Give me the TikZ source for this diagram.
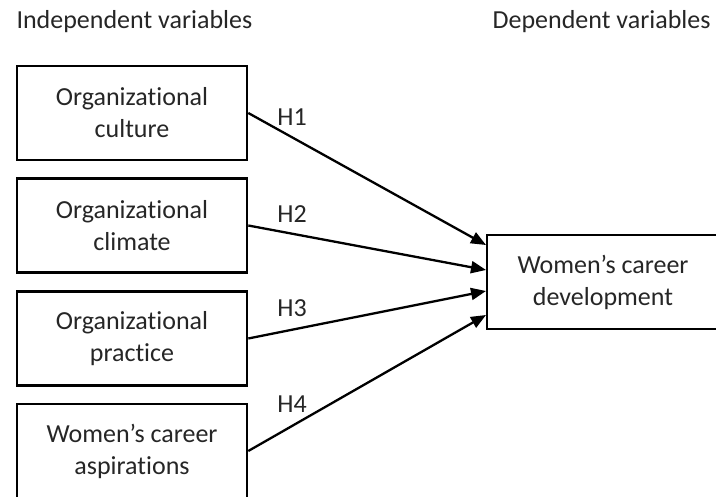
\documentclass[tikz,border=0pt]{standalone}
\usepackage{fontspec}
\setmainfont[Ligatures={NoCommon,NoRequired,NoContextual}]{Carlito}
\usetikzlibrary{arrows.meta}
\begin{document}
\begin{tikzpicture}[x=1pt,y=-1pt,
  every node/.style={font=\fontsize{26}{32}\selectfont, text=black!85},
  varbox/.style={draw=black, line width=2.6pt, minimum width=230pt, minimum height=94pt, align=center, inner sep=0pt},
  hyparrow/.style={line width=2.3pt, -{Triangle[length=15pt,width=12pt]}},
  hlabel/.style={anchor=base}]
\useasboundingbox (0,0) rectangle (716,497);
\clip (0,0) rectangle (716,497);
\node[anchor=base west] (hiv) at (13,29) {Independent variables};
\node[anchor=base east] (hdv) at (714,29) {Dependent variables};
\node[varbox] (iv1) at (132,113) {Organizational\\culture};
\node[varbox] (iv2) at (132,225.5) {Organizational\\climate};
\node[varbox] (iv3) at (132,338.5) {Organizational\\practice};
\node[varbox] (iv4) at (132,451) {Women’s career\\aspirations};
\node[varbox, minimum width=232pt] (dv) at (603,282) {Women’s career\\development};
\coordinate (t1) at (486,245);
\coordinate (t2) at (486,270);
\coordinate (t3) at (486,291);
\coordinate (t4) at (486,315);
\draw[hyparrow] (iv1.east) -- (t1);
\draw[hyparrow] (iv2.east) -- (t2);
\draw[hyparrow] (iv3.east) -- (t3);
\draw[hyparrow] (iv4.east) -- (t4);
\node[hlabel] (h1) at (292,126) {H1};
\node[hlabel] (h2) at (292,223) {H2};
\node[hlabel] (h3) at (292,317) {H3};
\node[hlabel] (h4) at (292,413) {H4};
\end{tikzpicture}
\end{document}
